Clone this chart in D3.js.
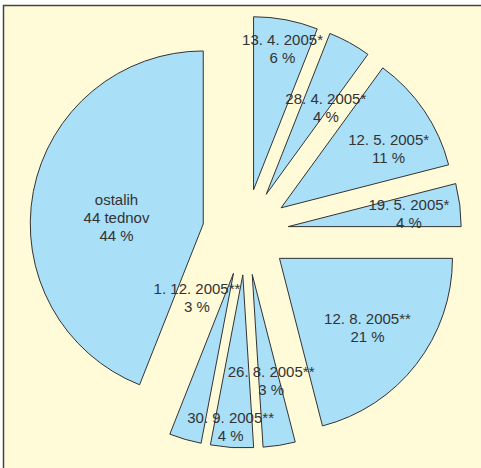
<!DOCTYPE html>
<html>
<head>
<meta charset="utf-8">
<script src="https://cdn.jsdelivr.net/npm/d3@7"></script>
<style>
  html, body { margin: 0; padding: 0; background: #ffffff; }
  svg { display: block; }
</style>
</head>
<body>
<svg id="chart" width="481" height="468"></svg>
<script>
// ---- data ----
const dates = ["13. 4. 2005*", "28. 4. 2005*", "12. 5. 2005*", "19. 5. 2005*",
               "12. 8. 2005**", "26. 8. 2005**", "30. 9. 2005**", "1. 12. 2005**", "ostalih"];
const subLabels = ["", "", "", "", "", "", "", "", "44 tednov"];
const shares = [6, 4, 11, 4, 21, 3, 4, 3, 44];

// ---- layout (label placement relative to each exploded slice tip: [angle deg, distance px]) ----
const labelPlace = [[11.6, 144], [34.6, 105], [61, 123], [83.9, 121.5], [128.2, 112],
                    [169.9, 107.7], [184.6, 152], [236.5, 43.8], [274.4, 87]];

const W = 481, H = 468;
const cx = 245.5, cy = 232, radius = 173, explode = 43;
const fill = "#aadff8", bg = "#fffad8", ink = "#333333";

const svg = d3.select("#chart");

svg.append("rect").attr("x", 3.5).attr("y", 5.5).attr("width", W).attr("height", H)
  .attr("fill", bg).attr("stroke", "#444").attr("stroke-width", 1.5);

const pie = d3.pie().sort(null).value(d => d.v).startAngle(0).endAngle(2 * Math.PI);
const arcs = pie(shares.map((v, i) => ({ v, i })));
const arc = d3.arc().innerRadius(0).outerRadius(radius);

const g = svg.append("g").attr("transform", `translate(${cx},${cy})`);
const shift = d => {
  const m = (d.startAngle + d.endAngle) / 2;
  return [Math.sin(m) * explode, -Math.cos(m) * explode];
};

g.append("g").selectAll("path").data(arcs).enter().append("path")
  .attr("transform", d => `translate(${shift(d)})`)
  .attr("d", arc)
  .attr("fill", fill)
  .attr("stroke", ink)
  .attr("stroke-width", 1)
  .attr("stroke-linejoin", "miter");

const lineH = 18;
const labels = g.append("g").selectAll("text").data(arcs).enter().append("text")
  .attr("transform", d => `translate(${shift(d)})`)
  .attr("text-anchor", "middle")
  .attr("font-family", "Liberation Sans, Arial, Helvetica, sans-serif")
  .attr("font-size", 15)
  .attr("fill", ink);

labels.each(function (d) {
  const i = d.data.i;
  const [angDeg, dist] = labelPlace[i];
  const a = angDeg * Math.PI / 180;
  const lx = Math.sin(a) * dist, ly = -Math.cos(a) * dist;
  const lines = [dates[i]];
  if (subLabels[i]) lines.push(subLabels[i]);
  lines.push(shares[i] + " %");
  lines.forEach((s, k) => {
    d3.select(this).append("tspan")
      .attr("x", lx)
      .attr("y", ly + (k - (lines.length - 1) / 2) * lineH)
      .attr("dy", "0.36em")
      .text(s);
  });
});
</script>
</body>
</html>
